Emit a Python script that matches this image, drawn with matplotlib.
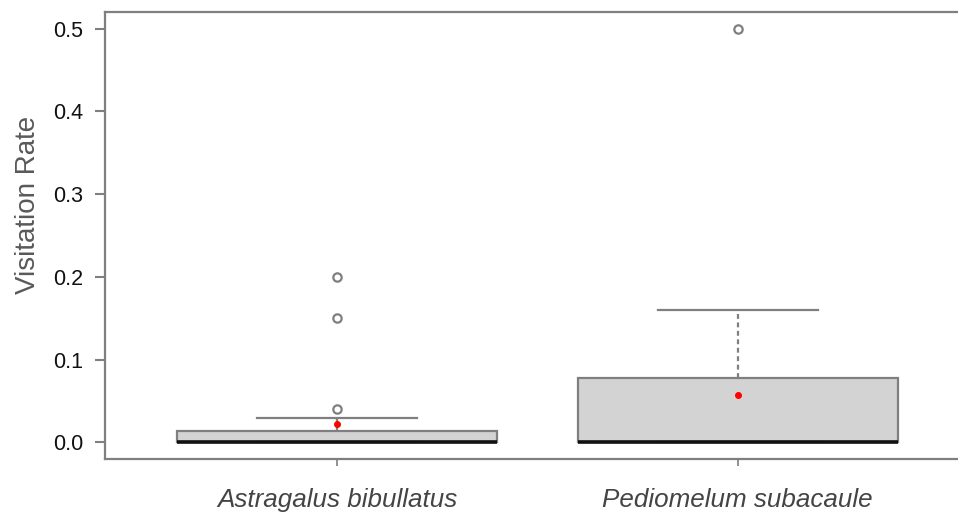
import matplotlib
matplotlib.use("Agg")
import matplotlib.pyplot as plt

plt.rcParams['font.family'] = ['Liberation Sans', 'DejaVu Sans']

categories = ["Astragalus bibullatus", "Pediomelum subacaule"]
q1 = [0.0, 0.0]
medians = [0.0, 0.0]
q3 = [0.0135, 0.078]
whisker_low = [0.0, 0.0]
whisker_high = [0.03, 0.16]
outliers = [[0.04, 0.15, 0.20], [0.50]]
means = [0.022, 0.057]
yticks = [0.0, 0.1, 0.2, 0.3, 0.4, 0.5]

fig = plt.figure(figsize=(9.58, 5.14), dpi=100)
ax = fig.add_axes([105/958, 1 - 459/514, (970 - 105)/958, (459 - 12)/514])

stats = []
for i, c in enumerate(categories):
    stats.append(dict(label=c, med=medians[i], q1=q1[i], q3=q3[i],
                      whislo=whisker_low[i], whishi=whisker_high[i],
                      fliers=outliers[i], mean=means[i]))

gray = '#7f7f7f'
ax.bxp(stats, positions=[1, 2], widths=0.8, patch_artist=True,
       showmeans=True, showfliers=True,
       boxprops=dict(facecolor='#d3d3d3', edgecolor=gray, linewidth=1.6),
       medianprops=dict(color='#111111', linewidth=2.6, solid_capstyle='butt', zorder=5),
       whiskerprops=dict(color=gray, linewidth=1.6, linestyle=(0, (2.2, 1.6))),
       capprops=dict(color=gray, linewidth=1.6),
       capwidths=0.4,
       flierprops=dict(marker='o', markerfacecolor='none', markeredgecolor=gray,
                       markersize=6, markeredgewidth=1.6),
       meanprops=dict(marker='o', markerfacecolor='red', markeredgecolor='red',
                      markersize=4))

ax.set_xlim(0.42, 2.58)
ax.set_ylim(-0.02, 0.52)
ax.set_yticks(yticks)
ax.set_yticklabels([f"{t:.1f}" for t in yticks], fontsize=15.5, color='#111111')
ax.set_xticks([1, 2])
ax.set_xticklabels(categories, fontsize=18.7, style='italic', color='#444444')
ax.tick_params(axis='y', length=7, width=1.5, color=gray, pad=8.5)
ax.tick_params(axis='x', length=5, width=1.2, color=gray, pad=16)
for s in ax.spines.values():
    s.set_color(gray)
    s.set_linewidth(1.6)
ax.set_ylabel("Visitation Rate", fontsize=20, color='#595959')
ax.yaxis.set_label_coords((41 - 105) / 865, (459 - 205) / 447)

fig.savefig("out.png", dpi=100)
